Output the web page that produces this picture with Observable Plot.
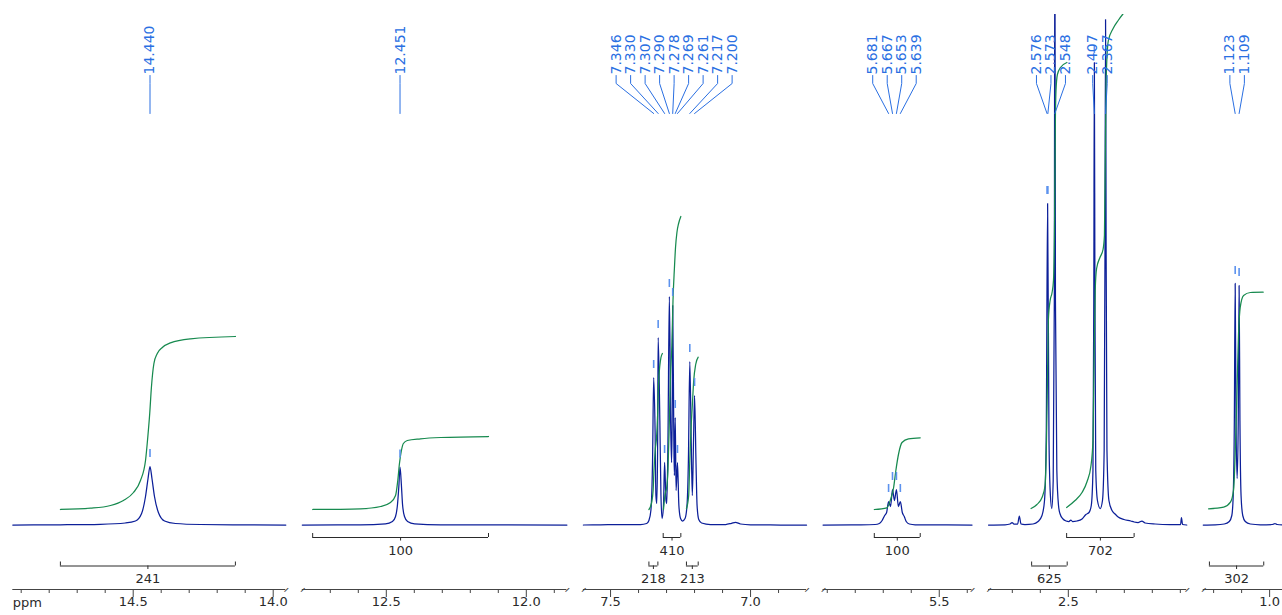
<!DOCTYPE html>
<html><head><meta charset="utf-8">
<script src="https://cdn.jsdelivr.net/npm/d3@7"></script>
<script src="https://cdn.jsdelivr.net/npm/@observablehq/plot@0.6"></script>
<style>
html,body{margin:0;padding:0;background:#fff;}
#chart{position:relative;width:1282px;height:615px;overflow:hidden;background:#fff;}
</style>
</head><body><div id="chart"></div>
<script>
// ---------- DATA ----------
// axis segments [start ppm, end ppm] (broken axis)
const segments = [[14.93, 13.955], [12.80, 11.855], [7.597, 6.80], [5.915, 5.383], [2.785, 2.077], [1.237, 0.95]];
const majorTicks = [14.5, 14.0, 12.5, 12.0, 7.5, 7.0, 5.5, 2.5, 1.0];

// picked peaks
const peakPpm = [14.440, 12.451, 7.346, 7.330, 7.307, 7.290, 7.278, 7.269, 7.261, 7.217, 7.200,
  5.681, 5.667, 5.653, 5.639, 2.576, 2.573, 2.548, 2.407, 2.367, 1.123, 1.109];
const peakHeight = [58.5, 58, 147.5, 187.5, 62.5, 228.5, 219.5, 107.5, 62.5, 163.5, 129.5,
  23.5, 35.5, 35.5, 23.5, 321.5, 321.5, 620, 462.5, 505.5, 241.5, 239.5];
const peakGroup = [0, 1, 2, 2, 2, 2, 2, 2, 2, 2, 2, 3, 3, 3, 3, 4, 4, 4, 5, 5, 6, 6];

// spectrum traces [ppm, intensity], one per axis segment
const spectrum1 = [[14.93,0],[14.760,0.2],[14.617,0.7],[14.528,2.0],[14.492,4.0],[14.470,11.5],[14.456,28.5],[14.447,46.5],[14.440,58.5],[14.433,46.5],[14.424,28.5],[14.410,12.5],[14.388,4.0],[14.349,1.5],[14.260,0.5],[14.081,0.1],[13.955,0]];
const spectrum2 = [[12.80,0],[12.592,0.2],[12.503,1.2],[12.478,3.5],[12.467,8.5],[12.460,20.5],[12.455,39.5],[12.451,57.8],[12.446,39.5],[12.442,20.5],[12.435,8.5],[12.424,3.5],[12.399,1.2],[12.306,0.2],[11.855,0]];
const spectrum3 = [[7.597,0],[7.536,0.2],[7.464,0.5],[7.393,0.5],[7.371,1.5],[7.363,4.5],[7.356,14.5],[7.350,64.5],[7.346,147.5],[7.341,94.5],[7.338,29.5],[7.335,21.5],[7.332,74.5],[7.330,187.5],[7.324,104.5],[7.320,29.5],[7.316,6.5],[7.311,19.5],[7.307,62.5],[7.302,24.5],[7.299,21.5],[7.295,84.5],[7.290,228.5],[7.285,94.5],[7.282,62.5],[7.280,104.5],[7.278,219.5],[7.274,84.5],[7.272,49.5],[7.269,107.5],[7.266,34.5],[7.261,62.5],[7.256,19.5],[7.250,6.5],[7.243,4],[7.234,6.5],[7.227,19.5],[7.222,64.5],[7.217,163.5],[7.212,84.5],[7.208,29.5],[7.204,79.5],[7.200,129.5],[7.195,64.5],[7.191,19.5],[7.185,5.5],[7.175,2],[7.143,0.5],[7.089,0.5],[7.068,1.7],[7.054,2.7],[7.036,1.0],[7.000,0.2],[6.893,0],[6.80,0]];
const spectrum4 = [[5.915,0],[5.782,0.2],[5.729,0.5],[5.714,1.5],[5.704,4.5],[5.695,9.5],[5.688,12.5],[5.681,23.5],[5.674,18.5],[5.667,35.5],[5.660,24.5],[5.653,35.5],[5.646,18.5],[5.639,23.5],[5.632,12.5],[5.625,8.5],[5.618,3.5],[5.607,1],[5.586,0.2],[5.383,0]];
const spectrum5 = [[2.785,0],[2.726,0.2],[2.708,1],[2.701,2.5],[2.694,1],[2.681,1],[2.675,9],[2.669,1],[2.655,0.5],[2.626,1],[2.608,3.5],[2.594,9.5],[2.585,24.5],[2.579,84.5],[2.574,321.5],[2.569,84.5],[2.564,29.5],[2.559,16.5],[2.554,44.5],[2.550,224.5],[2.548,620],[2.546,224.5],[2.541,54.5],[2.535,19.5],[2.530,11.5],[2.519,6],[2.508,4],[2.498,3.5],[2.491,5],[2.485,3.5],[2.469,4],[2.451,6],[2.437,10.5],[2.426,12.5],[2.418,19.5],[2.412,54.5],[2.409,224.5],[2.407,462.5],[2.405,224.5],[2.402,54.5],[2.396,24.5],[2.386,16.5],[2.378,24.5],[2.372,74.5],[2.369,274.5],[2.367,505.5],[2.365,274.5],[2.362,74.5],[2.355,24.5],[2.344,14.5],[2.333,11],[2.322,8],[2.301,5.5],[2.277,4],[2.265,3],[2.251,2.5],[2.237,4],[2.226,2],[2.190,1],[2.137,0.5],[2.099,0.5],[2.096,7.5],[2.092,0.5],[2.077,0]];
const spectrum6 = [[1.237,0],[1.194,0.2],[1.162,1],[1.144,3.5],[1.135,9.5],[1.130,29.5],[1.126,104.5],[1.123,241.5],[1.120,104.5],[1.116,46.5],[1.112,104.5],[1.109,239.5],[1.106,104.5],[1.102,29.5],[1.096,9.5],[1.087,3.5],[1.069,1],[1.033,0.2],[0.990,0.5],[0.981,1.5],[0.973,0.5],[0.95,0]];

// integral curves [ppm, value]
const int241 = [[14.760,15.5],[14.652,16.8],[14.581,19.5],[14.535,24.5],[14.499,32.5],[14.474,44.5],[14.456,64.5],[14.448,87.5],[14.441,111.5],[14.435,137.5],[14.426,161.5],[14.414,171.5],[14.396,177.5],[14.367,182.2],[14.295,186.2],[14.135,188.5]];
const int100a = [[12.763,15.5],[12.592,16.2],[12.520,18.5],[12.485,22.5],[12.467,29.5],[12.459,44.5],[12.453,61.5],[12.446,74.5],[12.439,81.5],[12.425,84.5],[12.378,86.2],[12.306,87.5],[12.135,88.5]];
const int218 = [[7.363,15.5],[7.354,21.5],[7.348,34.5],[7.345,54.5],[7.340,76.5],[7.336,86.5],[7.332,109.5],[7.329,139.5],[7.324,159.5],[7.320,167.5],[7.315,171.5]];
const int410 = [[7.311,15.5],[7.309,21.5],[7.305,31.5],[7.300,36.5],[7.295,54.5],[7.290,104.5],[7.286,149.5],[7.281,179.5],[7.277,224.5],[7.272,256.5],[7.268,277.5],[7.263,292.5],[7.257,301.5],[7.249,308.5]];
const int213 = [[7.229,16.2],[7.221,29.5],[7.217,64.5],[7.213,94.5],[7.208,119.5],[7.203,144.5],[7.196,160.5],[7.187,167.8]];
const int100b = [[5.732,15.5],[5.687,17.2],[5.675,24.5],[5.663,37.5],[5.655,54.5],[5.645,71.5],[5.633,82.5],[5.610,86.2],[5.568,87.2]];
const int625 = [[2.633,16.5],[2.612,20.5],[2.594,27.5],[2.583,39.5],[2.578,84.5],[2.574,154.5],[2.571,206.5],[2.565,224.5],[2.558,232.5],[2.553,244.5],[2.549,304.5],[2.547,384.5],[2.544,434.5],[2.539,450.5],[2.528,457.5],[2.505,462.5]];
const int702 = [[2.506,17.5],[2.476,24.5],[2.451,32.5],[2.433,43.5],[2.419,59.5],[2.412,84.5],[2.408,164.5],[2.404,234.5],[2.399,256.5],[2.387,267.5],[2.376,275.5],[2.371,289.5],[2.368,364.5],[2.365,444.5],[2.357,484.5],[2.340,496.5],[2.322,504.5],[2.305,511],[2.265,519.5]];
const int302 = [[1.218,16.2],[1.164,17.8],[1.140,22.8],[1.129,34.5],[1.119,107.5],[1.111,191.5],[1.105,217.5],[1.093,229.5],[1.069,232.5],[1.023,232.8]];

// integral brackets
const integralFrom  = [14.760, 12.763, 7.363, 7.312, 7.229, 5.732, 2.631, 2.506, 1.215];
const integralTo    = [14.135, 12.135, 7.331, 7.249, 7.187, 5.568, 2.504, 2.265, 1.021];
const integralValue = ["241", "100", "218", "410", "213", "100", "625", "702", "302"];
const integralRow   = [1, 0, 1, 0, 1, 0, 1, 0, 1];

// ---------- LAYOUT ----------
const W = 1282, H = 615;
const X0 = 12.3, K = 280, GAP = 16.5;           // px start, px per ppm, gap between segments
const BASE = 524.5, TOP = 14.5;                  // baseline / top pixel rows
const Y = px => BASE - px;                        // pixel row -> y value
const NAVY = "#0c1f99", GREEN = "#178a4f", BLUE = "#2a6fe2", MARK = "#5c92ee", INK = "#2a2a2a", AX = "#444";

const segRange = [];
{ let p = X0; for (const [s, e] of segments) { const q = p + (s - e) * K; segRange.push([p, q]); p = q + GAP; } }
const inSeg = (v, [s, e]) => v <= s + 1e-9 && v >= e - 1e-9;

const specArrays = [spectrum1, spectrum2, spectrum3, spectrum4, spectrum5, spectrum6];
const intTable = [int241, int100a, int218, int410, int213, int100b, int625, int702, int302]
  .flatMap((arr, i) => arr.map(([ppm, v]) => ({ppm, v, id: i})));

const peaks = peakPpm.map((ppm, i) => ({ppm, h: peakHeight[i], g: peakGroup[i], i}));
const LABEL_GAP = 14.5 / K;
for (const [, ps] of d3.groups(peaks, d => d.g)) {
  const c = (ps[0].ppm + ps[ps.length - 1].ppm) / 2;
  ps.forEach((p, j) => p.lx = c - (j - (ps.length - 1) / 2) * LABEL_GAP);
}
const connectors = peaks.flatMap(p => [
  {x: p.lx, y: Y(75), id: p.i, ppm: p.ppm}, {x: p.lx, y: Y(83), id: p.i, ppm: p.ppm}, {x: p.ppm, y: Y(113), id: p.i, ppm: p.ppm}]);

const rowY = r => r === 0 ? Y(537) : Y(565.5);
const integrals = integralFrom.map((f, i) => ({f, t: integralTo[i], m: (f + integralTo[i]) / 2, v: integralValue[i], y: rowY(integralRow[i])}));

const container = document.getElementById("chart");

segments.forEach((seg, i) => {
  const [s, e] = seg;
  const spec = specArrays[i].map(([ppm, v]) => ({ppm, v}));
  const ints = intTable.filter(d => inSeg(d.ppm, seg));
  const pk = peaks.filter(d => inSeg(d.ppm, seg));
  const con = connectors.filter(d => inSeg(d.ppm, seg));
  const brk = integrals.filter(d => inSeg(d.m, seg));
  const ends = brk.flatMap(d => [{x: d.f, y: d.y}, {x: d.t, y: d.y}]);
  const majors = majorTicks.filter(t => inSeg(t, seg));
  const minors = d3.range(Math.ceil(e * 10 - 1e-6), Math.floor(s * 10 + 1e-6) + 1).map(t => t / 10)
    .filter(t => t < s - 0.004 && t > e + 0.004 && !majors.some(m => Math.abs(m - t) < 1e-6));
  const breaks = [i > 0 ? s : null, i < segments.length - 1 ? e : null].filter(v => v !== null);

  const marks = [
    Plot.line(spec, {x: "ppm", y: "v", stroke: NAVY, strokeWidth: 1.25, curve: "monotone-x", clip: true}),
    Plot.line(ints, {x: "ppm", y: "v", z: "id", stroke: GREEN, strokeWidth: 1.25, curve: "monotone-x", clip: true}),
    Plot.ruleX(pk, {x: "ppm", y1: d => d.h + 9, y2: d => d.h + 17, stroke: MARK, strokeWidth: 1.6, clip: true}),
    Plot.line(con, {x: "x", y: "y", z: "id", stroke: BLUE, strokeWidth: 1}),
    Plot.text(pk, {x: "lx", y: Y(74), text: d => d.ppm.toFixed(3), rotate: -90, textAnchor: "start", fontSize: 14, fill: BLUE}),
    // integral brackets
    Plot.ruleY(brk, {y: "y", x1: "f", x2: "t", stroke: INK, strokeWidth: 1}),
    Plot.ruleX(ends, {x: "x", y1: "y", y2: d => d.y + 4, stroke: INK, strokeWidth: 1}),
    Plot.ruleX(brk, {x: "m", y1: "y", y2: d => d.y - 3.5, stroke: INK, strokeWidth: 1}),
    Plot.text(brk, {x: "m", y: d => d.y - 13, text: "v", fontSize: 13, fill: INK}),
    // broken ppm axis
    Plot.ruleY([seg], {y: Y(589), x1: d => d[0], x2: d => d[1], stroke: AX, strokeWidth: 1}),
    Plot.ruleX(minors, {x: d => d, y1: Y(589), y2: Y(593), stroke: AX, strokeWidth: 1}),
    Plot.ruleX(majors, {x: d => d, y1: Y(589), y2: Y(597), stroke: AX, strokeWidth: 1}),
    Plot.text(majors, {x: d => d, y: Y(601.7), text: d => d.toFixed(1), fontSize: 13, fill: INK}),
    Plot.text(breaks, {x: d => d, y: Y(589), text: () => "\u2013", rotate: -45, fontSize: 13, fill: AX})
  ];
  if (i === 0) marks.push(Plot.text(["ppm"], {frameAnchor: "bottom-left", text: d => d, dx: 12.3, dy: 17, textAnchor: "start", fontSize: 13, fill: INK}));

  const svg = Plot.plot({
    width: W, height: H,
    marginTop: 14, marginBottom: 26, marginLeft: 0, marginRight: 0,
    style: {fontFamily: "DejaVu Sans", fontSize: "13px", color: "#333", background: "transparent",
            position: "absolute", left: "0px", top: "0px", overflow: "visible"},
    x: {domain: [s, e], range: segRange[i], axis: null},
    y: {domain: [0, 510], range: [BASE, TOP], axis: null},
    marks
  });
  container.appendChild(svg);
});
</script>
</body></html>
